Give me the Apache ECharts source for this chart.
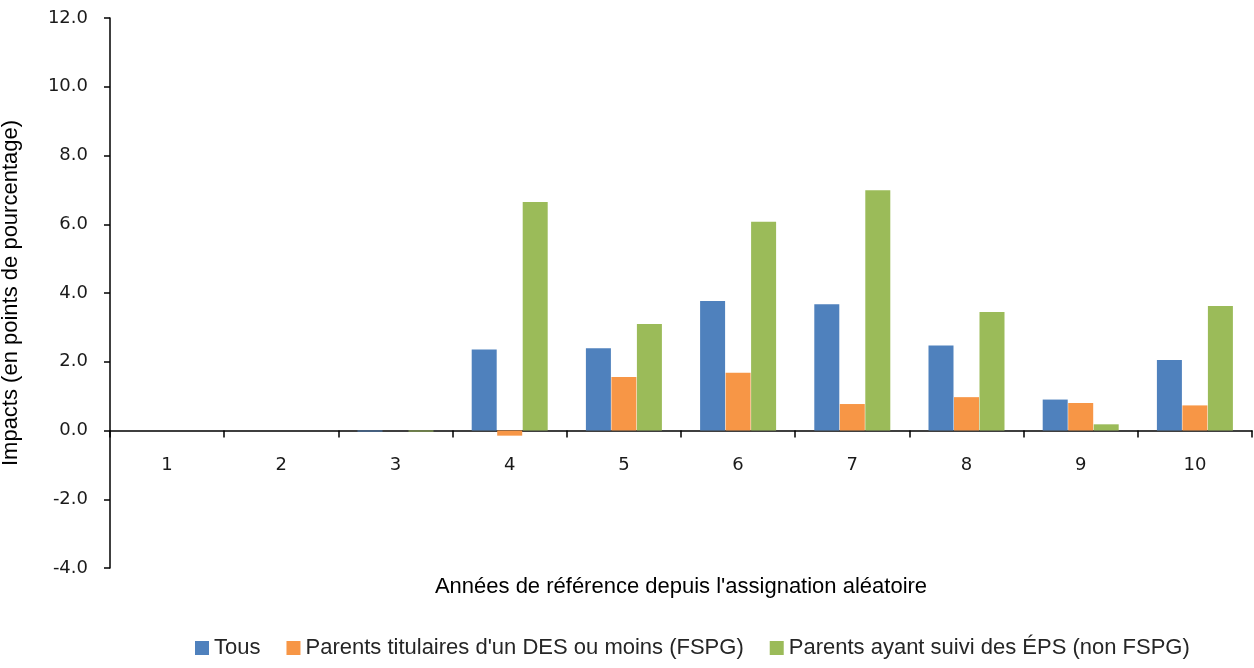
<!DOCTYPE html>
<html>
<head>
<meta charset="utf-8">
<script src="https://cdn.jsdelivr.net/npm/echarts@6/dist/echarts.min.js"></script>
<style>
  html, body { margin: 0; padding: 0; background: #fff; }
  #chart { width: 1254px; height: 668px; }
</style>
</head>
<body>
<div id="chart"></div>
<script>
const years = ['1', '2', '3', '4', '5', '6', '7', '8', '9', '10'];
const tous = [0, 0, -0.03, 2.36, 2.39, 3.77, 3.67, 2.47, 0.9, 2.05];
const fspg = [0, 0, 0, -0.15, 1.56, 1.68, 0.77, 0.97, 0.8, 0.73];
const nonFspg = [0, 0, -0.03, 6.65, 3.1, 6.07, 6.99, 3.45, 0.18, 3.62];

const textFont = '"Liberation Sans", Arial, sans-serif';
const tickFont = '"DejaVu Sans", sans-serif';

const chart = echarts.init(document.getElementById('chart'));

const option = {
  backgroundColor: '#ffffff',
  animation: false,
  color: ['#4F81BD', '#F79646', '#9BBB59'],
  grid: {
    left: 110,
    right: 2,
    top: 18,
    bottom: 100,
    containLabel: false,
    outerBoundsMode: 'none',
  },
  legend: {
    bottom: 4,
    left: 190,
    icon: 'rect',
    itemWidth: 14,
    itemHeight: 14,
    itemGap: 26,
    textStyle: {
      fontFamily: textFont,
      fontSize: 22,
      color: '#262626',
    },
    data: ['Tous', "Parents titulaires d'un DES ou moins (FSPG)", 'Parents ayant suivi des ÉPS (non FSPG)'],
  },
  graphic: [
    {
      type: 'text',
      x: 681,
      y: 587,
      style: {
        text: "Années de référence depuis l'assignation aléatoire",
        fontFamily: textFont,
        fontSize: 22,
        fill: '#000',
        align: 'center',
        verticalAlign: 'middle',
      },
    },
  ],
  xAxis: {
    type: 'category',
    data: years,
    axisLine: { onZero: true, lineStyle: { color: '#000', width: 1.5 } },
    axisTick: { show: true, length: 7, lineStyle: { color: '#000', width: 1.5 } },
    axisLabel: {
      color: '#1a1a1a',
      fontFamily: tickFont,
      fontSize: 18,
      margin: -112,
    },
  },
  yAxis: {
    type: 'value',
    min: -4,
    max: 12,
    interval: 2,
    name: 'Impacts (en points de pourcentage)',
    nameLocation: 'middle',
    nameGap: 88,
    nameTextStyle: {
      fontFamily: textFont,
      fontSize: 22,
      color: '#000',
    },
    axisLine: { show: true, lineStyle: { color: '#000', width: 1.5 } },
    axisTick: { show: true, length: 6, lineStyle: { color: '#000', width: 1.5 } },
    splitLine: { show: false },
    axisLabel: {
      color: '#1a1a1a',
      fontFamily: tickFont,
      fontSize: 18,
      margin: 22,
      formatter: (v) => v.toFixed(1),
    },
  },
  series: [
    {
      name: 'Tous',
      type: 'bar',
      barWidth: 25,
      barGap: '2%',
      data: tous,
    },
    {
      name: "Parents titulaires d'un DES ou moins (FSPG)",
      type: 'bar',
      barWidth: 25,
      barGap: '2%',
      data: fspg,
    },
    {
      name: 'Parents ayant suivi des ÉPS (non FSPG)',
      type: 'bar',
      barWidth: 25,
      barGap: '2%',
      data: nonFspg,
    },
  ],
};

chart.setOption(option);
</script>
</body>
</html>
